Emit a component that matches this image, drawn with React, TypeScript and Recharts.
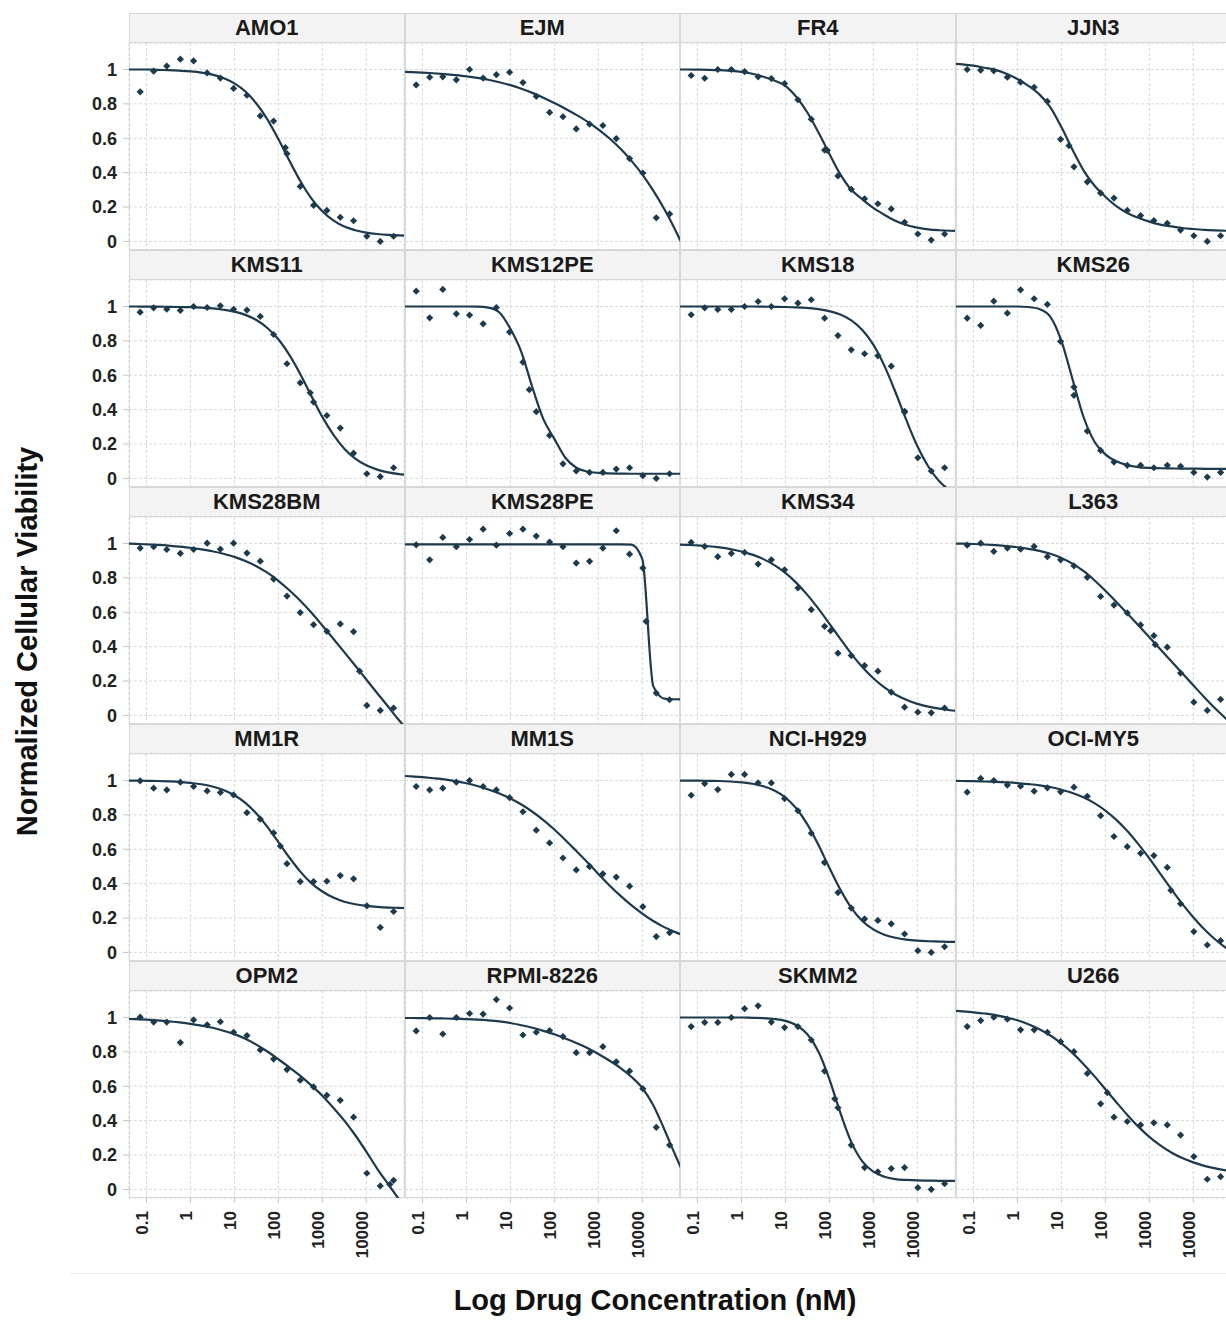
import { CartesianGrid, ComposedChart, Line, Scatter, XAxis, YAxis } from 'recharts';

// drug concentrations (nM), 2-fold dilution series
const concentrations = [
  0.072, 0.146, 0.29, 0.59, 1.18, 2.4, 4.8, 9.6, 19.3, 38.8, 78, 157, 315, 633, 1270, 2560, 5140, 10300,
  20800, 41800,
];

const fitExponents = [
  -1.5, -1.25, -1, -0.75, -0.5, -0.25, 0, 0.25, 0.5, 0.75, 1, 1.25, 1.5, 1.75, 2, 2.25, 2.5, 2.75, 3, 3.25,
  3.5, 3.75, 4, 4.25, 4.5, 4.75, 5,
];

const xTicks = [0.1, 1, 10, 100, 1000, 10000];
const yTicks = [0, 0.2, 0.4, 0.6, 0.8, 1];

const amo1Viability = [0.87, 0.99, 1.02, 1.06, 1.05, 0.98, 0.95, 0.89, 0.85, 0.73, 0.7, 0.51, 0.32, 0.21, 0.18, 0.14, 0.12, 0.03, 0.0, 0.03];
const amo1Fit = [1.0, 1.0, 1.0, 0.998, 0.996, 0.993, 0.989, 0.982, 0.97, 0.951, 0.919, 0.872, 0.802, 0.71, 0.595, 0.47, 0.351, 0.25, 0.175, 0.122, 0.086, 0.065, 0.051, 0.043, 0.038, 0.035, 0.033];
const amo1Ic50 = [144, 0.545];

const ejmViability = [0.91, 0.955, 0.957, 0.94, 1.0, 0.95, 0.97, 0.984, 0.924, 0.844, 0.75, 0.725, 0.654, 0.682, 0.674, 0.598, 0.482, 0.398, 0.137, 0.16];
const ejmFit = [0.987, 0.985, 0.982, 0.978, 0.973, 0.967, 0.96, 0.951, 0.94, 0.926, 0.909, 0.888, 0.864, 0.836, 0.805, 0.772, 0.736, 0.697, 0.652, 0.6, 0.54, 0.47, 0.39, 0.295, 0.188, 0.067, -0.068];

const fr4Viability = [0.965, 0.949, 1.0, 1.0, 0.988, 0.957, 0.947, 0.918, 0.824, 0.711, 0.531, 0.381, 0.303, 0.248, 0.219, 0.189, 0.111, 0.043, 0.008, 0.043];
const fr4Fit = [1.0, 1.0, 0.999, 0.998, 0.996, 0.992, 0.986, 0.975, 0.958, 0.936, 0.905, 0.84, 0.75, 0.635, 0.51, 0.39, 0.3, 0.245, 0.195, 0.155, 0.12, 0.095, 0.08, 0.07, 0.065, 0.062, 0.06];
const fr4Ic50 = [90, 0.53];

const jjn3Viability = [1.0, 0.996, 0.992, 0.955, 0.926, 0.896, 0.814, 0.594, 0.434, 0.346, 0.281, 0.252, 0.18, 0.15, 0.121, 0.105, 0.066, 0.033, 0.0, 0.033];
const jjn3Fit = [1.035, 1.03, 1.022, 1.01, 0.998, 0.975, 0.945, 0.905, 0.855, 0.78, 0.665, 0.535, 0.415, 0.325, 0.26, 0.205, 0.165, 0.137, 0.115, 0.098, 0.087, 0.078, 0.072, 0.067, 0.064, 0.062, 0.061];
const jjn3Ic50 = [14.9, 0.557];

const kms11Viability = [0.967, 0.992, 0.984, 0.977, 1.0, 0.994, 1.004, 0.984, 0.979, 0.942, 0.837, 0.667, 0.556, 0.444, 0.366, 0.293, 0.147, 0.027, 0.01, 0.062];
const kms11Fit = [1.0, 1.0, 0.999, 0.999, 0.998, 0.997, 0.996, 0.993, 0.989, 0.981, 0.97, 0.951, 0.921, 0.875, 0.809, 0.718, 0.606, 0.48, 0.358, 0.255, 0.173, 0.115, 0.076, 0.051, 0.035, 0.025, 0.019];
const kms11Ic50 = [531, 0.498];

const kms12peViability = [1.089, 0.934, 1.099, 0.957, 0.95, 0.899, 0.994, 0.851, 0.676, 0.388, 0.25, 0.085, 0.043, 0.035, 0.035, 0.054, 0.062, 0.016, 0.0, 0.027];
const kms12peFit = [1.0, 1.0, 1.0, 1.0, 1.0, 1.0, 1.0, 0.999, 0.993, 0.965, 0.87, 0.735, 0.53, 0.345, 0.23, 0.12, 0.062, 0.04, 0.032, 0.029, 0.028, 0.027, 0.027, 0.027, 0.027, 0.027, 0.027];
const kms12peIc50 = [27, 0.516];

const kms18Viability = [0.952, 0.992, 0.983, 0.983, 1.0, 1.029, 1.0, 1.045, 1.019, 1.039, 0.932, 0.831, 0.748, 0.725, 0.713, 0.653, 0.386, 0.12, 0.043, 0.062];
const kms18Fit = [1.0, 1.0, 1.0, 1.0, 1.0, 1.0, 1.0, 1.0, 0.999, 0.998, 0.997, 0.995, 0.991, 0.985, 0.973, 0.953, 0.919, 0.863, 0.778, 0.656, 0.504, 0.34, 0.188, 0.069, -0.017, -0.071, -0.104];
const kms18Ic50 = [5140, 0.39];

const kms26Viability = [0.932, 0.89, 1.031, 0.961, 1.097, 1.045, 1.012, 0.797, 0.483, 0.275, 0.163, 0.095, 0.076, 0.076, 0.062, 0.076, 0.07, 0.035, 0.008, 0.035];
const kms26Fit = [1.0, 1.0, 1.0, 1.0, 1.0, 1.0, 1.0, 0.997, 0.985, 0.94, 0.8, 0.58, 0.36, 0.215, 0.14, 0.1, 0.077, 0.066, 0.061, 0.059, 0.058, 0.057, 0.057, 0.056, 0.056, 0.056, 0.056];
const kms26Ic50 = [19.3, 0.531];

const kms28bmViability = [0.973, 0.981, 0.965, 0.942, 0.965, 1.002, 0.967, 1.002, 0.944, 0.897, 0.793, 0.694, 0.598, 0.528, 0.489, 0.532, 0.487, 0.058, 0.029, 0.043];
const kms28bmFit = [1.0, 0.998, 0.995, 0.992, 0.988, 0.982, 0.975, 0.966, 0.955, 0.94, 0.922, 0.898, 0.868, 0.83, 0.783, 0.728, 0.667, 0.598, 0.523, 0.446, 0.368, 0.289, 0.209, 0.129, 0.05, -0.03, -0.1];
const kms28bmIc50 = [7050, 0.257];

const kms28peViability = [0.992, 0.905, 1.035, 0.981, 1.023, 1.083, 0.99, 1.058, 1.083, 1.043, 1.008, 0.981, 0.886, 0.896, 0.973, 1.074, 0.938, 0.857, 0.13, 0.091];
const kms28peFit = [0.995, 0.995, 0.995, 0.995, 0.995, 0.995, 0.995, 0.995, 0.995, 0.995, 0.995, 0.995, 0.995, 0.995, 0.995, 0.995, 0.995, 0.995, 0.995, 0.995, 0.995, 0.993, 0.91, 0.17, 0.098, 0.094, 0.093];
const kms28peIc50 = [12200, 0.547];

const kms34Viability = [1.006, 0.983, 0.923, 0.942, 0.948, 0.88, 0.905, 0.847, 0.741, 0.615, 0.518, 0.362, 0.348, 0.29, 0.257, 0.135, 0.048, 0.019, 0.015, 0.043];
const kms34Fit = [0.995, 0.992, 0.989, 0.984, 0.977, 0.967, 0.953, 0.935, 0.909, 0.874, 0.829, 0.771, 0.701, 0.621, 0.534, 0.445, 0.358, 0.281, 0.216, 0.163, 0.122, 0.091, 0.067, 0.051, 0.039, 0.03, 0.024];
const kms34Ic50 = [107, 0.493];

const l363Viability = [0.99, 1.002, 0.954, 0.973, 0.967, 0.983, 0.923, 0.905, 0.87, 0.803, 0.692, 0.642, 0.596, 0.526, 0.464, 0.397, 0.246, 0.077, 0.029, 0.093];
const l363Fit = [1.0, 0.999, 0.997, 0.994, 0.99, 0.985, 0.978, 0.969, 0.957, 0.94, 0.916, 0.883, 0.84, 0.786, 0.725, 0.66, 0.593, 0.525, 0.455, 0.385, 0.315, 0.245, 0.175, 0.106, 0.04, -0.02, -0.075];
const l363Ic50 = [1365, 0.412];

const mm1rViability = [0.998, 0.955, 0.945, 0.99, 0.965, 0.939, 0.93, 0.916, 0.813, 0.775, 0.695, 0.516, 0.412, 0.412, 0.414, 0.447, 0.428, 0.271, 0.145, 0.238];
const mm1rFit = [0.999, 0.999, 0.998, 0.997, 0.995, 0.992, 0.986, 0.978, 0.965, 0.945, 0.914, 0.87, 0.808, 0.73, 0.642, 0.552, 0.47, 0.403, 0.354, 0.319, 0.295, 0.28, 0.271, 0.265, 0.261, 0.259, 0.257];
const mm1rIc50 = [111, 0.619];

const mm1sViability = [0.965, 0.945, 0.955, 0.99, 1.0, 0.965, 0.945, 0.9, 0.818, 0.711, 0.637, 0.549, 0.48, 0.5, 0.457, 0.438, 0.385, 0.266, 0.092, 0.115];
const mm1sFit = [1.027, 1.024, 1.019, 1.013, 1.006, 0.996, 0.984, 0.968, 0.948, 0.924, 0.895, 0.86, 0.818, 0.77, 0.715, 0.654, 0.59, 0.525, 0.456, 0.391, 0.33, 0.275, 0.226, 0.183, 0.147, 0.118, 0.093];
const mm1sIc50 = [633, 0.5];

const nciH929Viability = [0.914, 0.982, 0.947, 1.035, 1.035, 0.986, 0.986, 0.895, 0.824, 0.693, 0.523, 0.348, 0.258, 0.195, 0.186, 0.166, 0.107, 0.01, 0.0, 0.033];
const nciH929Fit = [1.0, 0.999, 0.999, 0.998, 0.997, 0.994, 0.989, 0.981, 0.966, 0.942, 0.901, 0.837, 0.745, 0.626, 0.492, 0.365, 0.259, 0.183, 0.134, 0.103, 0.085, 0.074, 0.068, 0.065, 0.063, 0.061, 0.061];
const nciH929Ic50 = [78, 0.523];

const ociMy5Viability = [0.932, 1.012, 1.0, 0.973, 0.967, 0.938, 0.957, 0.934, 0.961, 0.908, 0.795, 0.674, 0.615, 0.576, 0.563, 0.494, 0.283, 0.121, 0.043, 0.068];
const ociMy5Fit = [0.998, 0.997, 0.996, 0.994, 0.992, 0.989, 0.985, 0.979, 0.972, 0.962, 0.946, 0.927, 0.902, 0.868, 0.825, 0.771, 0.706, 0.63, 0.547, 0.457, 0.368, 0.282, 0.205, 0.135, 0.075, 0.025, -0.015];
const ociMy5Ic50 = [3090, 0.361];

const opm2Viability = [1.002, 0.973, 0.973, 0.854, 0.986, 0.957, 0.975, 0.914, 0.895, 0.811, 0.758, 0.697, 0.635, 0.596, 0.547, 0.518, 0.42, 0.094, 0.02, 0.053];
const opm2Fit = [0.992, 0.99, 0.987, 0.983, 0.978, 0.971, 0.963, 0.953, 0.94, 0.923, 0.903, 0.876, 0.842, 0.802, 0.757, 0.71, 0.66, 0.605, 0.545, 0.475, 0.4, 0.315, 0.22, 0.12, 0.03, -0.06, -0.15];
const opm2Ic50 = [34400, 0.029];

const rpmi8226Viability = [0.922, 1.0, 0.904, 1.0, 1.023, 1.02, 1.104, 1.055, 0.898, 0.914, 0.924, 0.889, 0.795, 0.795, 0.83, 0.742, 0.688, 0.586, 0.361, 0.258];
const rpmi8226Fit = [0.997, 0.997, 0.996, 0.995, 0.994, 0.992, 0.99, 0.987, 0.983, 0.977, 0.968, 0.955, 0.94, 0.922, 0.902, 0.878, 0.852, 0.823, 0.788, 0.75, 0.707, 0.655, 0.59, 0.49, 0.35, 0.2, 0.06];

const skmm2Viability = [0.947, 0.971, 0.971, 1.0, 1.051, 1.068, 0.973, 0.941, 0.947, 0.869, 0.688, 0.475, 0.258, 0.127, 0.102, 0.121, 0.127, 0.01, 0.0, 0.033];
const skmm2Fit = [1.0, 1.0, 1.0, 1.0, 1.0, 1.0, 1.0, 0.998, 0.996, 0.991, 0.98, 0.955, 0.902, 0.802, 0.642, 0.446, 0.275, 0.163, 0.103, 0.074, 0.06, 0.055, 0.052, 0.051, 0.05, 0.05, 0.05];
const skmm2Ic50 = [133, 0.527];

const u266Viability = [0.947, 0.982, 1.002, 0.99, 0.928, 0.928, 0.914, 0.859, 0.801, 0.674, 0.498, 0.42, 0.395, 0.375, 0.387, 0.375, 0.316, 0.191, 0.059, 0.074];
const u266Fit = [1.039, 1.036, 1.03, 1.023, 1.014, 1.0, 0.984, 0.961, 0.932, 0.895, 0.849, 0.794, 0.73, 0.659, 0.583, 0.507, 0.433, 0.365, 0.306, 0.256, 0.215, 0.182, 0.157, 0.137, 0.122, 0.111, 0.103];
const u266Ic50 = [111, 0.5625];

const cellLines = [
  { name: 'AMO1', viability: amo1Viability, fit: amo1Fit, ic50: amo1Ic50 },
  { name: 'EJM', viability: ejmViability, fit: ejmFit, ic50: null },
  { name: 'FR4', viability: fr4Viability, fit: fr4Fit, ic50: fr4Ic50 },
  { name: 'JJN3', viability: jjn3Viability, fit: jjn3Fit, ic50: jjn3Ic50 },
  { name: 'KMS11', viability: kms11Viability, fit: kms11Fit, ic50: kms11Ic50 },
  { name: 'KMS12PE', viability: kms12peViability, fit: kms12peFit, ic50: kms12peIc50 },
  { name: 'KMS18', viability: kms18Viability, fit: kms18Fit, ic50: kms18Ic50 },
  { name: 'KMS26', viability: kms26Viability, fit: kms26Fit, ic50: kms26Ic50 },
  { name: 'KMS28BM', viability: kms28bmViability, fit: kms28bmFit, ic50: kms28bmIc50 },
  { name: 'KMS28PE', viability: kms28peViability, fit: kms28peFit, ic50: kms28peIc50 },
  { name: 'KMS34', viability: kms34Viability, fit: kms34Fit, ic50: kms34Ic50 },
  { name: 'L363', viability: l363Viability, fit: l363Fit, ic50: l363Ic50 },
  { name: 'MM1R', viability: mm1rViability, fit: mm1rFit, ic50: mm1rIc50 },
  { name: 'MM1S', viability: mm1sViability, fit: mm1sFit, ic50: mm1sIc50 },
  { name: 'NCI-H929', viability: nciH929Viability, fit: nciH929Fit, ic50: nciH929Ic50 },
  { name: 'OCI-MY5', viability: ociMy5Viability, fit: ociMy5Fit, ic50: ociMy5Ic50 },
  { name: 'OPM2', viability: opm2Viability, fit: opm2Fit, ic50: opm2Ic50 },
  { name: 'RPMI-8226', viability: rpmi8226Viability, fit: rpmi8226Fit, ic50: null },
  { name: 'SKMM2', viability: skmm2Viability, fit: skmm2Fit, ic50: skmm2Ic50 },
  { name: 'U266', viability: u266Viability, fit: u266Fit, ic50: u266Ic50 },
];

const FONT = '"Liberation Sans", Arial, Helvetica, sans-serif';
const INK = '#1d3a4c';
const GRID = '#d9d9d9';

const PLOT_LEFT = 129;
const PLOT_W = 275;
const COL_STEP = 275.5;
const ROW_TOP = 13;
const ROW_STEP = 237;
const HEADER_H = 30;
const PLOT_H = 207;
const Y_AXIS_W = 50;
const X_AXIS_H = 80;
const LABEL_ROOM = 12; // lets the "0" tick label hang below a plot

const Diamond = (props: any) => {
  const { cx, cy } = props;
  if (cx == null || cy == null) return null;
  const r = 3.6;
  return <path d={`M${cx},${cy - r}L${cx + r},${cy}L${cx},${cy + r}L${cx - r},${cy}Z`} fill={INK} />;
};

function ConcTick(props: any) {
  const { x, y, payload } = props;
  return (
    <text
      x={x}
      y={y}
      dy={2}
      transform={`rotate(-90, ${x}, ${y})`}
      textAnchor="end"
      fontSize={17}
      fontWeight="bold"
      fill="#222"
      fontFamily={FONT}
    >
      {String(payload.value)}
    </text>
  );
}

function Panel({ line, row, col }: { line: (typeof cellLines)[number]; row: number; col: number }) {
  const showY = col === 0;
  const showX = row === 4;
  const left = PLOT_LEFT + COL_STEP * col;
  const top = ROW_TOP + ROW_STEP * row;
  const bottomRoom = showX ? 0 : LABEL_ROOM;

  const dots = concentrations.map((c, i) => ({ x: c, y: line.viability[i] }));
  const fit = fitExponents.map((e, i) => ({ x: Math.pow(10, e), y: line.fit[i] }));
  const marker = line.ic50 ? [{ x: line.ic50[0], y: line.ic50[1] }] : [];

  return (
    <>
      <div
        style={{
          position: 'absolute',
          left,
          top,
          width: COL_STEP,
          height: HEADER_H + PLOT_H,
          border: '1px solid #dadada',
          boxSizing: 'border-box',
        }}
      />
      <div
        style={{
          position: 'absolute',
          left,
          top,
          width: COL_STEP,
          height: HEADER_H,
          background: '#f3f3f3',
          border: '1px solid #d6d6d6',
          boxSizing: 'border-box',
          textAlign: 'center',
          lineHeight: `${HEADER_H - 2}px`,
          fontSize: 22,
          fontWeight: 'bold',
          color: '#1a1a1a',
        }}
      >
        {line.name}
      </div>
      <div style={{ position: 'absolute', left: left - (showY ? Y_AXIS_W : 0), top: top + HEADER_H }}>
        <ComposedChart
          width={PLOT_W + (showY ? Y_AXIS_W : 0)}
          height={PLOT_H + (showX ? X_AXIS_H : bottomRoom)}
          margin={{ top: 0, right: 0, bottom: bottomRoom, left: 0 }}
        >
          <CartesianGrid stroke={GRID} strokeDasharray="3 2" />
          <XAxis
            type="number"
            dataKey="x"
            scale="log"
            domain={[0.0401, 72100]}
            allowDataOverflow
            ticks={xTicks}
            hide={!showX}
            height={X_AXIS_H}
            axisLine={false}
            tickLine={{ stroke: '#c4c4c4' }}
            tickSize={5}
            tickMargin={8}
            tick={<ConcTick />}
            interval={0}
          />
          <YAxis
            type="number"
            dataKey="y"
            domain={[-0.05, 1.154]}
            allowDataOverflow
            ticks={yTicks}
            hide={!showY}
            width={Y_AXIS_W}
            axisLine={false}
            tickLine={{ stroke: '#c4c4c4' }}
            tickSize={6}
            tickMargin={6}
            interval={0}
            tick={{ fontSize: 18, fontWeight: 'bold', fill: '#222', fontFamily: FONT }}
          />
          <Line
            data={fit}
            dataKey="y"
            type="monotone"
            stroke={INK}
            strokeWidth={2.2}
            dot={false}
            activeDot={false}
            isAnimationActive={false}
          />
          <Scatter data={dots} dataKey="y" fill={INK} shape={<Diamond />} isAnimationActive={false} />
          <Scatter data={marker} dataKey="y" fill={INK} shape={<Diamond />} isAnimationActive={false} />
        </ComposedChart>
      </div>
    </>
  );
}

export default function App() {
  return (
    <div
      style={{
        position: 'fixed',
        left: 0,
        top: 0,
        width: 1226,
        height: 1325,
        overflow: 'hidden',
        background: '#fff',
        fontFamily: FONT,
      }}
    >
      {cellLines.map((line, i) => (
        <Panel key={line.name} line={line} row={Math.floor(i / 4)} col={i % 4} />
      ))}
      <div style={{ position: 'absolute', left: 70, top: 1273, width: 1156, height: 1, background: '#efefef' }} />
      <div
        style={{
          position: 'absolute',
          left: 26.7 - 250,
          top: 641.5 - 14.5,
          width: 500,
          height: 29,
          lineHeight: '29px',
          textAlign: 'center',
          fontSize: 29,
          fontWeight: 'bold',
          color: '#111',
          whiteSpace: 'nowrap',
          transform: 'rotate(-90deg)',
        }}
      >
        Normalized Cellular Viability
      </div>
      <div
        style={{
          position: 'absolute',
          left: 655 - 300,
          top: 1285.5,
          width: 600,
          height: 29,
          lineHeight: '29px',
          textAlign: 'center',
          fontSize: 29,
          fontWeight: 'bold',
          color: '#111',
          whiteSpace: 'nowrap',
        }}
      >
        Log Drug Concentration (nM)
      </div>
    </div>
  );
}
